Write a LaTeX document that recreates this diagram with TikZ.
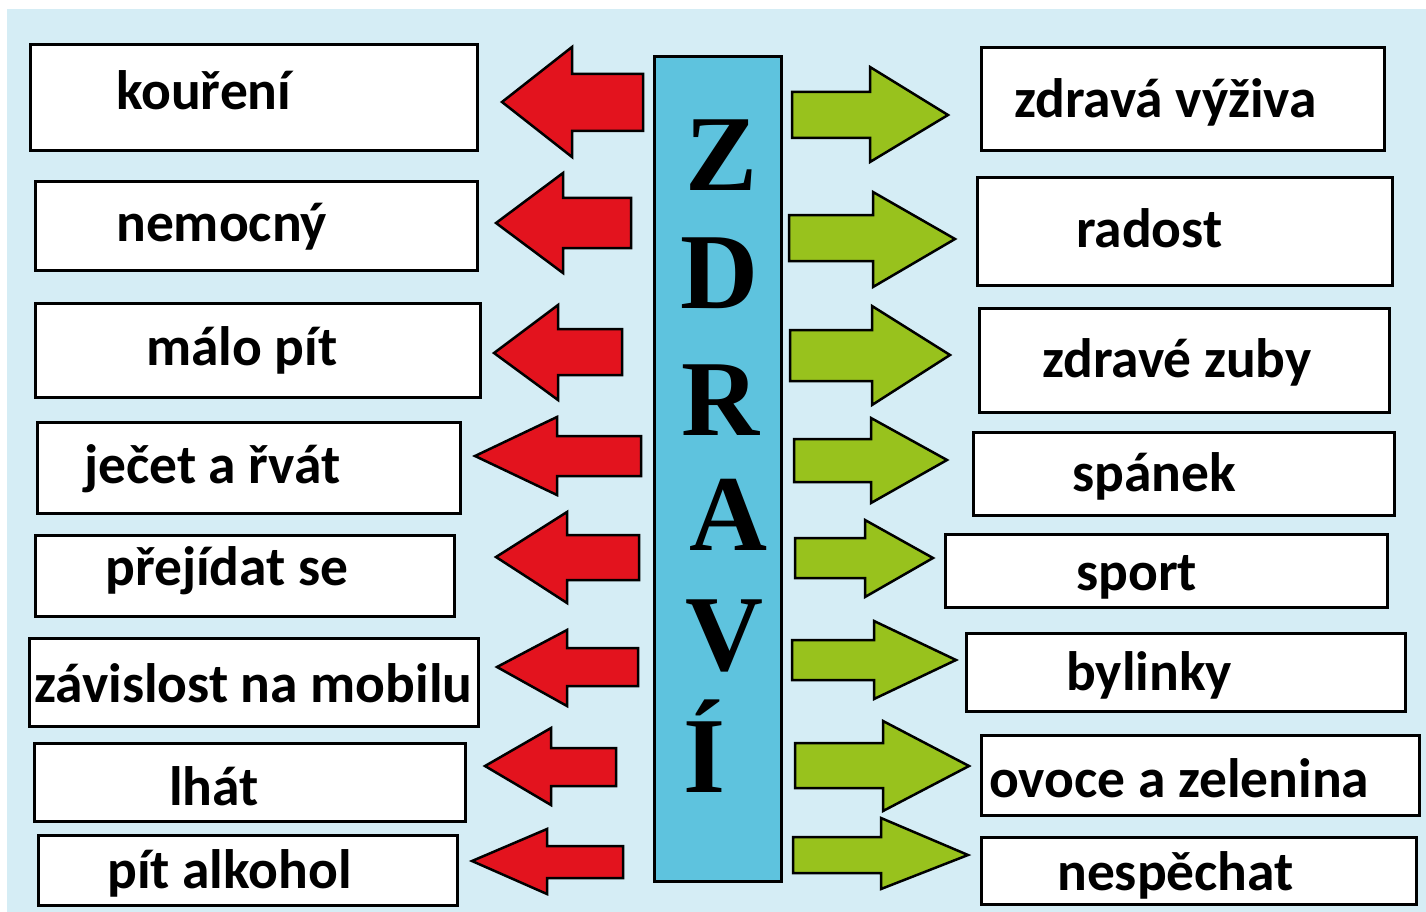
\documentclass[tikz,border=0pt]{standalone}
\usepackage{fontspec}
\setmainfont{Carlito}
\newfontfamily\zfont{Liberation Serif}
\definecolor{bgblue}{HTML}{D5EDF5}
\definecolor{barblue}{HTML}{5EC3DE}
\definecolor{arrred}{HTML}{E3131E}
\definecolor{arrgreen}{HTML}{98C21D}
\tikzset{
  wordbox/.style={draw=black, fill=white, line width=3pt, inner sep=0pt},
  wordtext/.style={font=\bfseries\fontsize{55.5}{60}\selectfont, inner sep=0pt, anchor=base west},
  redarr/.style={draw=black, fill=arrred, line width=2.5pt, line join=miter},
  greenarr/.style={draw=black, fill=arrgreen, line width=2.5pt, line join=miter},
  bigletter/.style={font=\zfont\bfseries\fontsize{108}{110}\selectfont, inner sep=0pt, anchor=base, text=black, text depth=2pt},
}
\begin{document}
\begin{tikzpicture}[x=1pt,y=-1pt]
\useasboundingbox (0,0) rectangle (1426,912);
\fill[white] (0,0) rectangle (1426,912);
\fill[bgblue] (7,9) rectangle (1426,912);

% word boxes and texts
\foreach \n/\xa/\ya/\xb/\yb/\tx/\ty/\t in {
  L1/29/43/479/152/116/110/kouření,
  L2/34/180/479/272/116/241/nemocný,
  L3/34/302/482/399/146/365/málo pít,
  L4/36/421/462/515/84/483/ječet a řvát,
  L5/34/534/456/618/105/585/přejídat se,
  L6/28/637/480/728/34/702/závislost na mobilu,
  L7/33/742/467/823/169/805/lhát,
  L8/37/834/459/907/107/888/pít alkohol,
  R1/980/46/1386/152/1014/118/zdravá výživa,
  R2/976/176/1394/287/1076/247/radost,
  R3/978/307/1391/414/1042/377/zdravé zuby,
  R4/972/431/1396/517/1072/491/spánek,
  R5/944/533/1389/609/1076/590/sport,
  R6/965/632/1407/713/1066/690/bylinky,
  R7/980/734/1421/817/989/797/ovoce a zelenina,
  R8/980/836/1418/906/1057/890/nespěchat}{
  \node[wordbox, minimum width={(\xb-\xa-3)*1pt}, minimum height={(\yb-\ya-3)*1pt}]
    (box\n) at ({(\xa+\xb)/2},{(\ya+\yb)/2}) {};
  \node[wordtext] (txt\n) at (\tx,\ty) {\t};
}

% central bar
\node[draw=black, fill=barblue, line width=3pt, inner sep=0pt,
      minimum width=127pt, minimum height=824pt] (bar) at (718,469) {};

% red arrows (pointing left)
\foreach \tx/\ty/\hx/\ht/\hb/\sx/\st/\sb in {
  502/102/572/47/157/643/74/131,
  496/223/563/173/273/631/198/248,
  494/353/558/305/400/622/329/375,
  475/456/557/417/495/641/436/476,
  496/557/567/512/603/639/535/580,
  497/667/567/630/706/638/648/686,
  485/766/551/728/805/616/748/786,
  472/861/547/829/894/623/846/878}{
  \draw[redarr] (\tx,\ty) -- (\hx,\ht) -- (\hx,\st) -- (\sx,\st) -- (\sx,\sb) -- (\hx,\sb) -- (\hx,\hb) -- cycle;
}

% green arrows (pointing right)
\foreach \tx/\ty/\hx/\ht/\hb/\sx/\st/\sb in {
  948/115/870/67/162/792/92/138,
  955/239/873/192/287/789/215/261,
  950/355/872/306/405/790/330/381,
  947/460/871/418/503/794/439/482,
  933/558/865/520/597/795/538/578,
  956/660/874/621/699/792/640/680,
  969/766/883/721/811/795/743/788,
  968/855/881/818/889/793/837/873}{
  \draw[greenarr] (\tx,\ty) -- (\hx,\ht) -- (\hx,\st) -- (\sx,\st) -- (\sx,\sb) -- (\hx,\sb) -- (\hx,\hb) -- cycle;
}

% ZDRAVÍ letters
\foreach \n/\cx/\by/\l/\th in {Z/722/190/Z/74pt, D/719/308/D/74pt, R/720/435/R/74pt, A/728/550/A/74pt, V/724/670/V/74pt, I/705/792/Í/92pt}{
  \node[bigletter, text height=\th] (let\n) at (\cx,\by) {\l};
}
\end{tikzpicture}
\end{document}
